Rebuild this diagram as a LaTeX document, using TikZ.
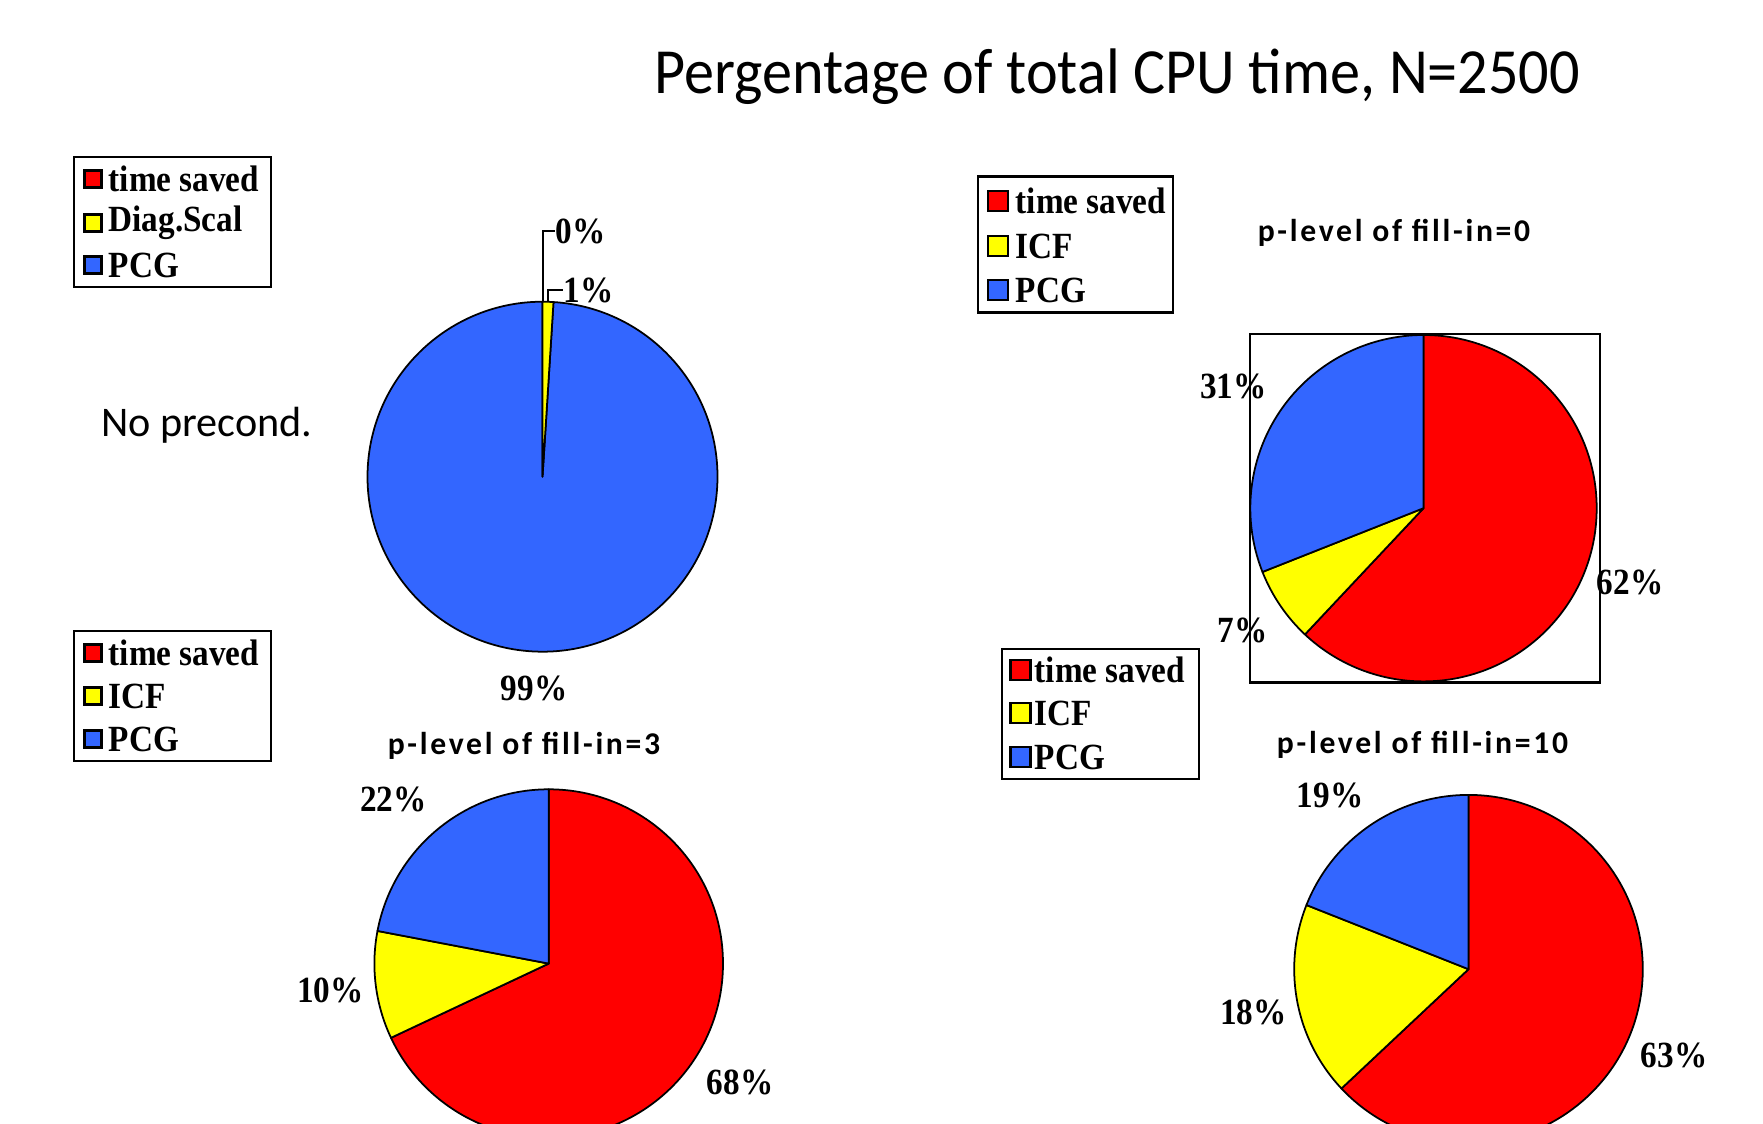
\documentclass[tikz,border=0pt]{standalone}
\usepackage{fontspec}
\setmainfont{Liberation Serif}
\newfontfamily\lgfont{Liberation Serif}[FakeStretch=0.9]
\newfontfamily\cfont{Carlito}
\newfontfamily\tfont{Carlito}[FakeStretch=0.935]
\newfontfamily\sfont{Carlito}[LetterSpace=8.5]
\definecolor{pred}{HTML}{FF0000}
\definecolor{pyel}{HTML}{FFFF00}
\definecolor{pblu}{HTML}{3366FF}
\newcommand\pieslice[6]{%
  \filldraw[fill=#6, draw=black, line width=0.5pt, line join=round]
    (#1,#2) -- ({#1+#3*cos(#4)},{#2-#3*sin(#4)})
    arc[start angle={-(#4)}, end angle={-(#5)}, radius=#3] -- cycle;}
\tikzset{
  lgbox/.style={draw=black, line width=0.8pt},
  mk/.style={draw=black, line width=0.6pt, minimum width=0.17cm, minimum height=0.17cm, inner sep=0pt},
  mkb/.style={draw=black, line width=0.6pt, minimum width=0.2cm, minimum height=0.2cm, inner sep=0pt},
  lgtext/.style={anchor=west, inner sep=0pt, font=\lgfont\bfseries\fontsize{10.5}{12}\selectfont},
  pct/.style={inner sep=0pt, font=\lgfont\bfseries\fontsize{10.5}{12}\selectfont},
  subt/.style={inner sep=0pt, font=\sfont\bfseries\fontsize{9}{11}\selectfont},
}
\begin{document}
\begin{tikzpicture}[x=0.01cm, y=-0.01cm]
\useasboundingbox (0,0) rectangle (1763,1124);
\clip (0,0) rectangle (1763,1124);
\fill[white] (0,0) rectangle (1763,1124);

% title
\node[inner sep=0pt] (title) at (1117,77) {\tfont\fontsize{18.3}{22}\selectfont Pergentage of total CPU time, N=2500};

% ---------- pie 1: no precond ----------
\pieslice{542.5}{476.7}{175}{86.4}{-270}{pblu}
\pieslice{542.5}{476.7}{175}{90}{86.4}{pyel}
\node[inner sep=0pt] (noprec) at (207,425) {\cfont\fontsize{12}{14}\selectfont No precond.};
\coordinate (p0) at (542.7,301.7);
\coordinate (p1) at (548,301.8);
\node[pct, anchor=west] (t0) at (555,231) {0\%};
\node[pct, anchor=west] (t1) at (563,290) {1\%};
\draw[line width=0.6pt] (p0) |- (t0.west);
\draw[line width=0.6pt] (p1) |- (t1.west);
\node[pct] (t99) at (534,688) {99\%};

\draw[lgbox] (74,157) rectangle (271,287);
\node[mk, fill=pred] (l1a) at (93,179) {};
\node[mk, fill=pyel] (l1b) at (93,223) {};
\node[mk, fill=pblu] (l1c) at (93,265) {};
\node[lgtext] (l1at) at (108,179) {time saved};
\node[lgtext] (l1bt) at (108,223) {Diag.Scal};
\node[lgtext] (l1ct) at (108,265) {PCG};

% ---------- pie 2: fill-in=0 ----------
\draw[line width=0.6pt] (1250.3,334) rectangle (1600,682.5);
\pieslice{1423.5}{508.2}{173.2}{90}{-133.2}{pred}
\pieslice{1423.5}{508.2}{173.2}{-133.2}{-158.4}{pyel}
\pieslice{1423.5}{508.2}{173.2}{-158.4}{-270}{pblu}
\node[subt] (st0) at (1394,233) {p-level of fill-in=0};
\node[pct] (t31) at (1233.5,386) {31\%};
\node[pct] (t7) at (1242.5,630) {7\%};
\node[pct] (t62) at (1630,582) {62\%};

\draw[lgbox] (978,176.5) rectangle (1173,312.6);
\node[mkb, fill=pred] (l3a) at (998,201) {};
\node[mkb, fill=pyel] (l3b) at (998,246) {};
\node[mkb, fill=pblu] (l3c) at (998,290) {};
\node[lgtext] (l3at) at (1015,201) {time saved};
\node[lgtext] (l3bt) at (1015,246) {ICF};
\node[lgtext] (l3ct) at (1015,290) {PCG};

% ---------- pie 3: fill-in=3 ----------
\pieslice{548.7}{963.6}{174.3}{90}{-154.8}{pred}
\pieslice{548.7}{963.6}{174.3}{-154.8}{-190.8}{pyel}
\pieslice{548.7}{963.6}{174.3}{-190.8}{-270}{pblu}
\node[subt] (st3) at (524,745.5) {p-level of fill-in=3};
\node[pct] (t22) at (393.5,799.5) {22\%};
\node[pct] (t10) at (330.5,990.5) {10\%};
\node[pct] (t68) at (740,1082) {68\%};

\draw[lgbox] (74,631) rectangle (271,761);
\node[mk, fill=pred] (l2a) at (93,653) {};
\node[mk, fill=pyel] (l2b) at (93,696) {};
\node[mk, fill=pblu] (l2c) at (93,739) {};
\node[lgtext] (l2at) at (108,653) {time saved};
\node[lgtext] (l2bt) at (108,696) {ICF};
\node[lgtext] (l2ct) at (108,739) {PCG};

% ---------- pie 4: fill-in=10 ----------
\pieslice{1468.5}{969.2}{174.3}{90}{-136.8}{pred}
\pieslice{1468.5}{969.2}{174.3}{-136.8}{-201.6}{pyel}
\pieslice{1468.5}{969.2}{174.3}{-201.6}{-270}{pblu}
\node[subt] (st10) at (1422.5,744.5) {p-level of fill-in=10};
\node[pct] (t19) at (1330,795) {19\%};
\node[pct] (t18) at (1253.5,1012) {18\%};
\node[pct] (t63) at (1674,1055) {63\%};

\draw[lgbox] (1002,649) rectangle (1199,779);
\node[mkb, fill=pred] (l4a) at (1020.5,670) {};
\node[mkb, fill=pyel] (l4b) at (1020.5,713) {};
\node[mkb, fill=pblu] (l4c) at (1020.5,757) {};
\node[lgtext] (l4at) at (1034,670) {time saved};
\node[lgtext] (l4bt) at (1034,713) {ICF};
\node[lgtext] (l4ct) at (1034,757) {PCG};
\end{tikzpicture}
\end{document}
